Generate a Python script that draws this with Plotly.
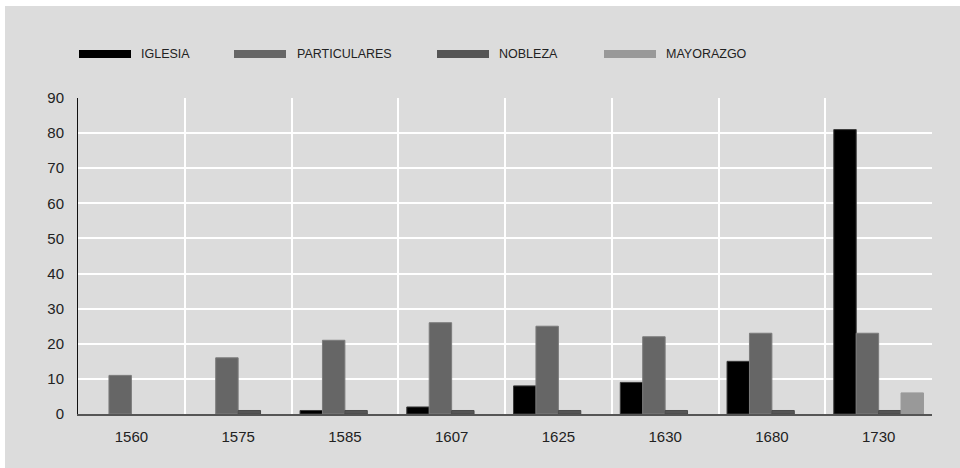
import plotly.graph_objects as go

years = ["1560", "1575", "1585", "1607", "1625", "1630", "1680", "1730"]
series_names = ["IGLESIA", "PARTICULARES", "NOBLEZA", "MAYORAZGO"]
iglesia = [0, 0, 1, 2, 8, 9, 15, 81]
particulares = [11, 16, 21, 26, 25, 22, 23, 23]
nobleza = [0, 1, 1, 1, 1, 1, 1, 1]
mayorazgo = [0, 0, 0, 0, 0, 0, 0, 6]
y_ticks = [0, 10, 20, 30, 40, 50, 60, 70, 80, 90]

series_values = [iglesia, particulares, nobleza, mayorazgo]
colors = ["#000000", "#666666", "#555555", "#999999"]
edge_colors = ["#3a3a3a", "#7c7c7c", "#4a4a4a", "#999999"]

W, H = 960, 468
L, R, T, B = 78, 28, 98, 54
pw, ph = W - L - R, H - T - B

def px_x(px):
    return (px - L) / pw

def px_y(py):
    return (H - B - py) / ph

fig = go.Figure()
for name, vals, c, ec in zip(series_names, series_values, colors, edge_colors):
    fig.add_trace(go.Bar(x=years, y=vals, name=name,
                         marker=dict(color=c, line=dict(color=ec, width=[0 if v == 0 else 1 for v in vals])),
                         showlegend=False))

shapes = [
    dict(type="rect", xref="paper", yref="paper", x0=px_x(5), x1=px_x(970), y0=px_y(480), y1=px_y(6),
         fillcolor="#dcdcdc", line=dict(width=0), layer="below"),
]
annotations = []
legend_pos = [(79, 139), (234, 295), (437, 497), (604, 664)]
for (sx, tx), name, c in zip(legend_pos, series_names, colors):
    shapes.append(dict(type="rect", xref="paper", yref="paper", x0=px_x(sx), x1=px_x(sx + 52),
                       y0=px_y(58), y1=px_y(50), fillcolor=c, line=dict(width=0)))
    annotations.append(dict(x=px_x(tx), y=px_y(54), xref="paper", yref="paper", text=name,
                            showarrow=False, xanchor="left", yanchor="middle",
                            font=dict(size=12.5, color="#222222", family="Liberation Sans, Arial, sans-serif")))

fig.update_layout(
    width=W, height=H,
    margin=dict(l=L, r=R, t=T, b=B),
    paper_bgcolor="white",
    plot_bgcolor="#dcdcdc",
    barmode="group",
    bargap=0.16,
    bargroupgap=0,
    shapes=shapes,
    annotations=annotations,
    font=dict(family="Liberation Sans, Arial, sans-serif", size=15, color="#222222"),
    xaxis=dict(type="category", tickson="boundaries", showgrid=True, gridcolor="white", gridwidth=2,
               ticks="", showline=True, linecolor="#555555", linewidth=2, ticklabelstandoff=8,
               tickfont=dict(size=15, color="#222222")),
    yaxis=dict(range=[0, 90], tickvals=y_ticks, showgrid=True, gridcolor="white", gridwidth=2,
               zeroline=False, showline=True, linecolor="#111111", linewidth=1, ticks="",
               ticklabelstandoff=10, tickfont=dict(size=15, color="#222222")),
)

fig.write_html("out.html", config={"displayModeBar": False},
               post_script="document.body.style.margin='0';document.body.style.overflow='hidden';")
